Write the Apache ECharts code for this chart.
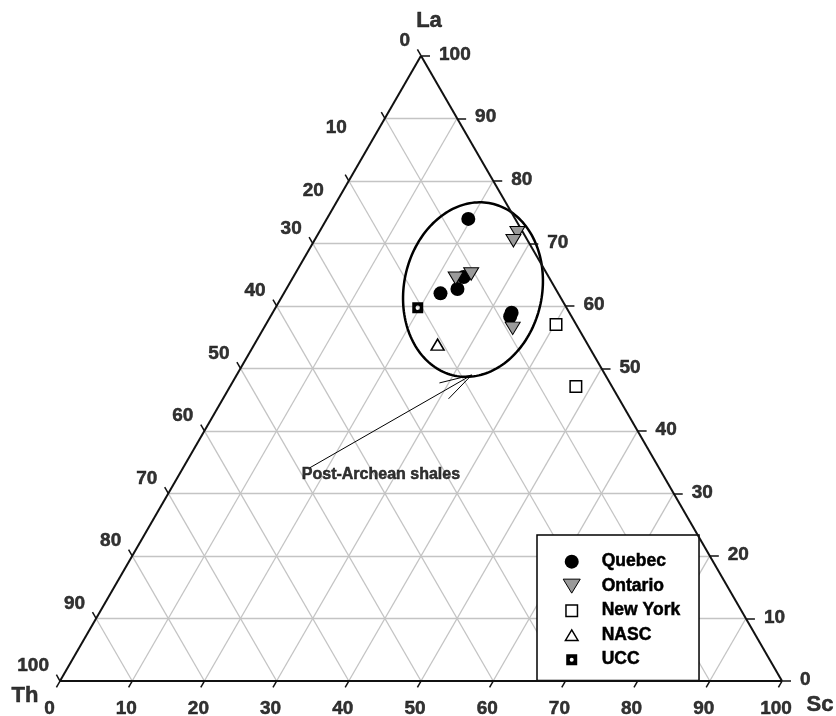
<!DOCTYPE html>
<html>
<head>
<meta charset="utf-8">
<script src="https://cdn.jsdelivr.net/npm/echarts@6/dist/echarts.min.js"></script>
<style>
  html, body { margin: 0; padding: 0; background: #fff; }
  #chart { width: 836px; height: 716px; }
</style>
</head>
<body>
<div id="chart"></div>
<script>
// Ternary compositions, each sample as [La, Th, Sc] in percent (sums to 100)
const quebec = [
  [73.9, 6.5, 19.6],
  [62.0, 16.3, 21.7],
  [62.7, 13.6, 23.7],
  [64.6, 11.8, 23.6],
  [58.9, 8.0, 33.1],
  [58.3, 8.5, 33.2]
];
const ontario = [
  [71.7, 0.8, 27.5],
  [70.4, 2.0, 27.6],
  [64.4, 13.0, 22.6],
  [65.1, 10.5, 24.4],
  [56.4, 9.1, 34.5]
];
const newYork = [
  [57.0, 2.8, 40.2],
  [47.1, 5.0, 47.9]
];
const nasc = [[53.8, 20.8, 25.4]];
const ucc = [[59.7, 20.6, 19.7]];

const seriesNames = ['Quebec', 'Ontario', 'New York', 'NASC', 'UCC'];
const tickValues = [0, 10, 20, 30, 40, 50, 60, 70, 80, 90, 100];
const gridValues = [10, 20, 30, 40, 50, 60, 70, 80, 90];
const apexNames = { top: 'La', left: 'Th', right: 'Sc' };

// Post-Archean shale field: centre [La, Th, Sc], semi-axes in percent units, tilt in degrees
const shaleCentre = [62.6, 11.5, 25.9];
const shaleRadii = [9.56, 12.19];
const shaleTilt = 12;
const shaleLabel = 'Post-Archean shales';
const arrowTail = [34.1, 48.35, 17.55];
const arrowHead = [48.94, 18.51, 32.55];

// ---------- geometry helpers ----------
const H = Math.sqrt(3) / 2;
// [La, Th, Sc] -> planar coordinates; Th apex at (0,0), Sc apex at (100,0), La apex on top
function toXY(c) { return [c[2] + c[0] / 2, c[0] * H]; }
function xyOf(la, sc) { return [sc + la / 2, la * H]; }

// Plot frame: Th apex at (60, 681) px, 7.22 px per percent unit, same scale on both axes
const W = 836, HT = 716, OX = 60, OY = 681, PX = 7.22;
const xMin = -OX / PX, xMax = (W - OX) / PX;
const yMin = -(HT - OY) / PX, yMax = OY / PX;

const FONT = '"Liberation Sans", Arial, Helvetica, sans-serif';
const HEAVY = { textBorderColor: '#000', textBorderWidth: 0.5 };

// Pixel offsets of the tick labels from their tick (a few labels sit apart from the rest)
const labelOffset = {
  bottom: { def: [-6, 28], 0: [-10.5, 28] },
  left: { def: [-11, -15], 10: [-38, 9.5], 20: [-25, 10] },
  right: { def: [18, -1] }
};
function offFor(side, v) { return labelOffset[side][v] || labelOffset[side].def; }

// Light grid lines of the three families
const gridSegs = [];
gridValues.forEach(function (v) {
  gridSegs.push({ coords: [xyOf(v, 0), xyOf(v, 100 - v)] });          // constant La
  gridSegs.push({ coords: [xyOf(0, v), xyOf(100 - v, v)] });          // constant Sc
  gridSegs.push({ coords: [xyOf(0, 100 - v), xyOf(100 - v, 0)] });    // constant Th
});

// Triangle outline
const A_TH = xyOf(0, 0), A_SC = xyOf(0, 100), A_LA = xyOf(100, 0);
const edgeSegs = [
  { coords: [A_TH, A_SC] },
  { coords: [A_SC, A_LA] },
  { coords: [A_LA, A_TH] }
];

// Tick marks and their labels
const tickSegs = [];
const bottomLabels = [], leftLabels = [], rightLabels = [];
tickValues.forEach(function (v) {
  const b = xyOf(0, v);                 // Sc along the base
  tickSegs.push({ coords: [b, [b[0] - 0.5, b[1] - H]] });
  bottomLabels.push({ name: String(v), value: b, label: { offset: offFor('bottom', v) } });
  const l = xyOf(100 - v, 0);           // Th along the left side
  tickSegs.push({ coords: [l, [l[0] - 0.5, l[1] + H]] });
  leftLabels.push({ name: String(v), value: l, label: { offset: offFor('left', v) } });
  const r = xyOf(v, 100 - v);           // La along the right side
  tickSegs.push({ coords: [r, [r[0] + 1.25, r[1]]] });
  rightLabels.push({ name: String(v), value: r, label: { offset: offFor('right', v) } });
});

// Arrow pointing at the shale field
const tip = toXY(arrowHead), tail = toXY(arrowTail);
const dx = tail[0] - tip[0], dy = tail[1] - tip[1];
const dl = Math.sqrt(dx * dx + dy * dy);
const barbLen = 4.6, barbAng = 16 * Math.PI / 180;
function barb(sign) {
  const a = sign * barbAng;
  const ux = dx / dl, uy = dy / dl;
  return [tip[0] + barbLen * (ux * Math.cos(a) - uy * Math.sin(a)),
          tip[1] + barbLen * (ux * Math.sin(a) + uy * Math.cos(a))];
}
const arrowSegs = [
  { coords: [tail, tip] },
  { coords: [tip, barb(1)] },
  { coords: [tip, barb(-1)] }
];

function labelSeries(items, label) {
  return {
    type: 'scatter', silent: true, z: 6, symbolSize: 1,
    itemStyle: { color: 'rgba(0,0,0,0)' },
    data: items,
    label: Object.assign({
      show: true, position: 'inside', formatter: '{b}',
      fontFamily: FONT, fontWeight: 'bold', fontSize: 19, color: '#000'
    }, HEAVY, label)
  };
}

const DOWN_TRI = 'path://M0,0L14,0L7,11.5Z';
const UCC_SYM = 'path://M0,0H10V10H0Z M5,3A2,2 0 1,0 5,7A2,2 0 1,0 5,3Z';

const chart = echarts.init(document.getElementById('chart'), null, { renderer: 'canvas' });
chart.setOption({
  animation: false,
  backgroundColor: '#fff',
  grid: { left: 0, right: 0, top: 0, bottom: 0 },
  xAxis: { type: 'value', min: xMin, max: xMax, show: false },
  yAxis: { type: 'value', min: yMin, max: yMax, show: false },
  legend: {
    left: 537, top: 535, orient: 'vertical',
    backgroundColor: '#fff', borderColor: '#000', borderWidth: 1.5,
    padding: [17.4, 18.6, 11.6, 25.7],
    itemWidth: 50, itemHeight: 14, itemGap: 6,
    selectedMode: false, z: 4,
    textStyle: Object.assign({ fontFamily: FONT, fontWeight: 'bold', fontSize: 17.5, color: '#000' }, HEAVY),
    data: [
      { name: 'Quebec', icon: 'circle', itemStyle: { color: '#000', borderWidth: 0 } },
      { name: 'Ontario', icon: DOWN_TRI, itemStyle: { color: '#9a9a9a', borderColor: '#000', borderWidth: 1 } },
      { name: 'New York', icon: 'path://M0,0M14,14M1.25,1.25H12.75V12.75H1.25Z', itemStyle: { color: '#fff', borderColor: '#000', borderWidth: 1.5 } },
      { name: 'NASC', icon: 'path://M0,0M14,14M7,1.75L13.3,12.25L0.7,12.25Z', itemStyle: { color: '#fff', borderColor: '#000', borderWidth: 1.5 } },
      { name: 'UCC', icon: 'path://M0,0M14,14M1.5,1.5H12.5V12.5H1.5Z M7,5A2,2 0 1,0 7,9A2,2 0 1,0 7,5Z', itemStyle: { color: '#000', borderWidth: 0 } }
    ]
  },
  series: [
    {
      type: 'lines', coordinateSystem: 'cartesian2d', silent: true, z: 1,
      lineStyle: { color: '#c4c4c4', width: 1.3, opacity: 1 },
      data: gridSegs
    },
    {
      type: 'lines', coordinateSystem: 'cartesian2d', silent: true, z: 5,
      lineStyle: { color: '#111', width: 2, opacity: 1 },
      data: edgeSegs
    },
    {
      type: 'lines', coordinateSystem: 'cartesian2d', silent: true, z: 5,
      lineStyle: { color: '#111', width: 1.5, opacity: 1 },
      data: tickSegs
    },
    {
      type: 'custom', coordinateSystem: 'cartesian2d', silent: true, z: 3,
      data: [toXY(shaleCentre)],
      renderItem: function (params, api) {
        const c = api.coord([api.value(0), api.value(1)]);
        const rx = api.size([shaleRadii[0], 0])[0];
        const ry = api.size([0, shaleRadii[1]])[1];
        const t = shaleTilt * Math.PI / 180;
        const pts = [];
        for (let i = 0; i < 180; i++) {
          const a = i / 180 * 2 * Math.PI;
          const x = rx * Math.cos(a), y = ry * Math.sin(a);
          pts.push([c[0] + x * Math.cos(t) - y * Math.sin(t), c[1] + x * Math.sin(t) + y * Math.cos(t)]);
        }
        return { type: 'polygon', shape: { points: pts }, style: { fill: 'none', stroke: '#000', lineWidth: 2.5 } };
      }
    },
    {
      type: 'lines', coordinateSystem: 'cartesian2d', silent: true, z: 3,
      lineStyle: { color: '#000', width: 1, opacity: 1 },
      data: arrowSegs
    },
    labelSeries([{ name: shaleLabel, value: tail }], {
      align: 'left', verticalAlign: 'middle', offset: [-8, 7], fontSize: 16
    }),
    {
      name: 'Quebec', type: 'scatter', z: 7, symbol: 'circle', symbolSize: 14,
      itemStyle: { color: '#000', borderWidth: 0, opacity: 1 },
      data: quebec.map(toXY)
    },
    {
      name: 'Ontario', type: 'scatter', z: 8, symbol: DOWN_TRI, symbolSize: [15, 12.5],
      itemStyle: { color: '#9a9a9a', borderColor: '#000', borderWidth: 1, opacity: 1 },
      data: ontario.map(toXY)
    },
    {
      name: 'New York', type: 'scatter', z: 8, symbol: 'rect', symbolSize: 11.5,
      itemStyle: { color: '#fff', borderColor: '#000', borderWidth: 1.5, opacity: 1 },
      data: newYork.map(toXY)
    },
    {
      name: 'NASC', type: 'scatter', z: 8, symbol: 'triangle', symbolSize: [13, 11],
      itemStyle: { color: '#fff', borderColor: '#000', borderWidth: 1.5, opacity: 1 },
      data: nasc.map(toXY)
    },
    {
      name: 'UCC', type: 'scatter', z: 8, symbol: UCC_SYM, symbolSize: 11,
      itemStyle: { color: '#000', borderWidth: 0, opacity: 1 },
      data: ucc.map(toXY)
    },
    labelSeries(bottomLabels, { align: 'center', verticalAlign: 'middle' }),
    labelSeries(leftLabels, { align: 'right', verticalAlign: 'middle' }),
    labelSeries(rightLabels, { align: 'left', verticalAlign: 'middle' }),
    labelSeries([
      { name: apexNames.top, value: A_LA, label: { offset: [8, -35] } },
      { name: apexNames.left, value: A_TH, label: { offset: [-35, 15] } },
      { name: apexNames.right, value: A_SC, label: { offset: [38, 24] } }
    ], { align: 'center', verticalAlign: 'middle', fontSize: 22 })
  ]
});
</script>
</body>
</html>
